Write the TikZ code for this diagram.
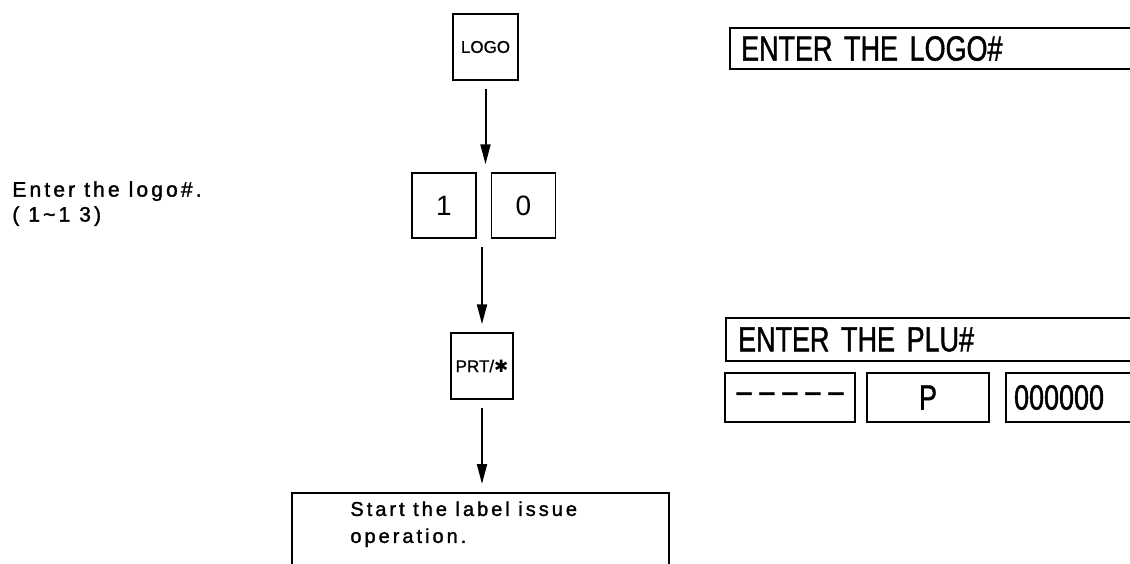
\documentclass[tikz,border=0pt]{standalone}
\usepackage{fontspec}
\setmainfont{Liberation Sans}
\newfontfamily\notefont[LetterSpace=15,FakeBold=1.5]{Liberation Sans}
\newfontfamily\dispfont[FakeStretch=0.77,FakeBold=1.2]{Liberation Sans}
\newfontfamily\keyfont[FakeBold=0.8]{Liberation Sans}
\newfontfamily\starfont{DejaVu Sans}
\usepackage{tikz}
\usetikzlibrary{arrows.meta}

\begin{document}
\begin{tikzpicture}[x=0.5pt,y=-0.5pt,
    key/.style={draw,line width=0.75pt,inner sep=0pt,font=\keyfont\fontsize{8.5}{9}\selectfont},
    bigkey/.style={key,minimum width=32pt,minimum height=32.5pt,font=\fontsize{14}{16}\selectfont},
    dispbox/.style={draw,line width=1.1pt,inner sep=0pt,font=\dispfont\fontsize{17.5}{18}\selectfont},
    flow/.style={-{Triangle[length=10pt,width=5pt]},line width=1pt,shorten <=4pt,shorten >=4pt},
    note/.style={align=left,inner sep=0pt}]
        \useasboundingbox (0,0) rectangle (1130,563);
        \clip (0,0) rectangle (1130,563);
        \node[note,anchor=north west,font=\notefont\fontsize{10.5}{12.5}\selectfont] (logonote) at (12,181) {Enter the logo\#.\\( 1\textasciitilde1 3)};
        \node[key,minimum width=32.5pt,minimum height=33pt] (logokey) at (485.5,47) {LOGO};
        \node[bigkey] (onekey) at (444,205.5) {1};
        \node[bigkey] (zerokey) at (523.5,205.5) {0};
        \node[key,minimum width=31pt,minimum height=33pt] (prtkey) at (482,366) {PRT/{\starfont ✱}};
        \node[key,anchor=north,minimum width=188.5pt,minimum height=60pt] (startbox) at (480.5,492) {};
        \node[note,anchor=north west,font=\notefont\fontsize{10}{13.5}\selectfont] (starttext) at (350,501) {Start the label issue\\operation.};
        \draw[flow] (logokey) -- (logokey |- onekey.north);
        \draw[flow] (prtkey.north |- onekey.south) -- (prtkey);
        \draw[flow] (prtkey) -- (prtkey |- startbox.north);
        \node[dispbox,anchor=west,inner xsep=5.5pt,text width=260pt,align=left,minimum height=20.5pt] (logodisp) at (729,48.5) {ENTER THE LOGO\#};
        \node[dispbox,anchor=west,inner xsep=6pt,text width=260pt,align=left,minimum height=21.5pt] (pludisp) at (725,339.5) {ENTER THE PLU\#};
        \node[dispbox,minimum width=65pt,minimum height=24.5pt] (dashfield) at (790,397.5) {\textendash\hspace{4pt}\textendash\hspace{4pt}\textendash\hspace{4pt}\textendash\hspace{4pt}\textendash};
        \node[dispbox,minimum width=61pt,minimum height=24.5pt] (pfield) at (928,397.5) {P};
        \node[dispbox,anchor=west,inner xsep=4pt,text width=100pt,align=left,minimum height=24.5pt] (numfield) at (1005,397.5) {000000};
      \end{tikzpicture}
\end{document}
